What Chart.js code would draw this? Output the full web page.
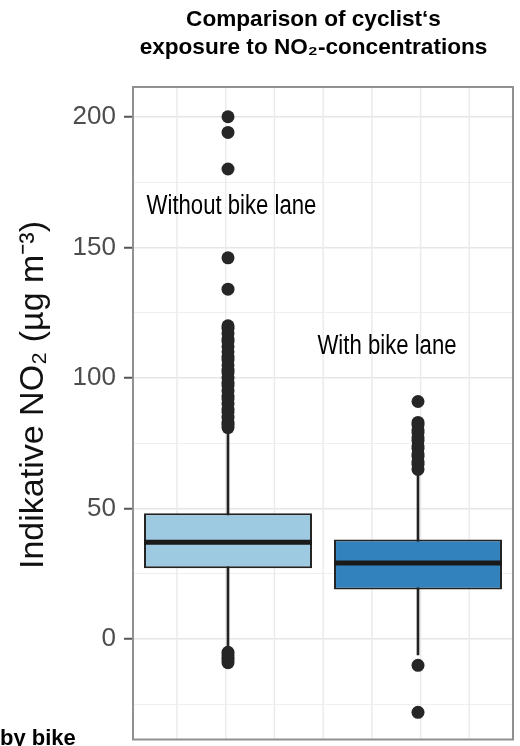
<!DOCTYPE html>
<html><head><meta charset="utf-8">
<script src="https://cdn.jsdelivr.net/npm/chart.js@4.4.1/dist/chart.umd.min.js"></script>
<style>html,body{margin:0;padding:0;background:#fff;} #wrap{width:520px;height:746px;}</style>
</head><body><div id="wrap"><canvas id="c" width="520" height="746"></canvas></div>
<script>
// ---- data ----
const categories = ['Without bike lane', 'With bike lane'];
const q1 = [27.2, 19.0];
const medians = [37.1, 29.2];
const q3 = [48.2, 38.2];
const whiskerLow = [-3, -6];
const whiskerHigh = [79, 64];
const outliersWithout = [200, 194, 180, 146, 134, 120, 119, 117, 115, 114, 112, 110, 108, 107, 105, 103, 102, 100, 98, 97, 95, 93, 92, 90, 88, 87, 85, 83, 82, 81, -5, -6, -7, -8, -9];
const outliersWith = [91, 83, 82, 80, 79, 77, 76, 74, 73, 71, 70, 68, 67, 65, -10, -28];
const yTicks = [-25, 0, 25, 50, 75, 100, 125, 150, 175, 200];
const yTickLabels = ['', '0', '', '50', '', '100', '', '150', '', '200'];
const chartTitle = ['Comparison of cyclist\u2018s', 'exposure to NO\u2082-concentrations'];
const yTitle = 'Indikative NO\u2082 (\u00b5g m\u207b\u00b3)';
const cornerText = 'by bike';

// ---- styles ----
const BAR_PCT = 0.884;
const boxFill = ['#9ecae1', '#3182bd'];
const dark = '#222222';
const SANS = "'Liberation Sans', Arial, sans-serif";

const outlierPoints = [];
outliersWithout.forEach(v => outlierPoints.push({x: categories[0], y: v}));
outliersWith.forEach(v => outlierPoints.push({x: categories[1], y: v}));

const panelDecor = {
  id: 'panelDecor',
  beforeDatasetsDraw(chart) {
    // vertical panel grid lines (evenly spaced background grid)
    const {ctx, chartArea: a} = chart;
    const w = a.right - a.left;
    ctx.save();
    ctx.strokeStyle = '#ebebeb';
    ctx.lineWidth = 1.5;
    for (let k = 0; k < 7; k++) {
      const px = a.left + w * (0.1158 + 0.1282 * k);
      ctx.beginPath(); ctx.moveTo(px, a.top); ctx.lineTo(px, a.bottom); ctx.stroke();
    }
    ctx.restore();
  },
  afterDatasetsDraw(chart) {
    const {ctx, chartArea: a, scales: {x, y}} = chart;
    ctx.save();
    // panel border
    ctx.strokeStyle = '#909090';
    ctx.lineWidth = 2;
    ctx.strokeRect(a.left, a.top, a.right - a.left, a.bottom - a.top);
    // annotation labels (condensed)
    const labelY = [165.6, 112.2];
    const labelDx = [3.5, -31];
    ctx.font = "27px " + SANS;
    ctx.fillStyle = '#000';
    ctx.textAlign = 'center';
    ctx.textBaseline = 'middle';
    categories.forEach((c, i) => {
      ctx.save();
      ctx.translate(x.getPixelForValue(i) + labelDx[i], y.getPixelForValue(labelY[i]));
      ctx.scale(0.82, 1);
      ctx.fillText(c, 0, 0);
      ctx.restore();
    });
    // chart title
    ctx.font = "bold 22.6px " + SANS;
    ctx.fillText(chartTitle[0], 313.5, 20);
    ctx.fillText(chartTitle[1], 313.5, 48);
    // y axis title
    ctx.save();
    ctx.translate(33.5, 395);
    ctx.rotate(-Math.PI / 2);
    ctx.font = "34px " + SANS;
    ctx.fillStyle = '#111';
    ctx.fillText(yTitle, 0, 0);
    ctx.restore();
    // residual corner text
    ctx.font = "bold 22px " + SANS;
    ctx.textAlign = 'left';
    ctx.textBaseline = 'alphabetic';
    ctx.fillText(cornerText, 0, 745);
    ctx.restore();
  }
};

new Chart(document.getElementById('c'), {
  type: 'bar',
  data: {
    labels: categories,
    datasets: [
      {
        type: 'bar', label: 'whiskers',
        data: categories.map((c, i) => [whiskerLow[i], whiskerHigh[i]]),
        backgroundColor: dark, barThickness: 2, grouped: false, order: 4
      },
      {
        type: 'bar', label: 'boxes',
        data: categories.map((c, i) => [q1[i], q3[i]]),
        backgroundColor: boxFill, borderColor: dark, borderWidth: 2, borderSkipped: false,
        barPercentage: BAR_PCT, categoryPercentage: 1, grouped: false, order: 3
      },
      {
        type: 'line', label: 'medians', data: medians, showLine: false,
        pointStyle: 'line', pointBorderColor: '#1a1a1a', pointBackgroundColor: '#1a1a1a',
        pointBorderWidth: 5,
        pointRadius: (ctx) => { const s = ctx.chart.scales.x; return s.width / categories.length * BAR_PCT / 2; },
        order: 2
      },
      {
        type: 'line', label: 'outliers', data: outlierPoints, showLine: false,
        pointStyle: 'circle', pointRadius: 6.5, pointBackgroundColor: '#262626', pointBorderWidth: 0,
        order: 1
      }
    ]
  },
  options: {
    responsive: false, animation: false, events: [],
    layout: {padding: {left: 73, right: 7, top: 87, bottom: 4}},
    plugins: {legend: {display: false}, tooltip: {enabled: false}, title: {display: false}},
    scales: {
      x: {type: 'category', display: false, offset: true},
      y: {
        type: 'linear', min: -38.4, max: 211.4,
        afterBuildTicks: (axis) => { axis.ticks = yTicks.map(v => ({value: v})); },
        afterFit: (s) => { s.width = 60; s.paddingBottom = 0; s.paddingTop = 0; },
        ticks: {
          padding: 8, color: '#4d4d4d',
          font: {family: SANS, size: 26},
          callback: (v) => { const i = yTicks.indexOf(v); return yTickLabels[i] ? yTickLabels[i] : []; }
        },
        grid: {
          color: (ctx) => (ctx.tick && ctx.tick.value % 50 === 0) ? '#e6e6e6' : '#efefef',
          lineWidth: (ctx) => (ctx.tick && ctx.tick.value % 50 === 0) ? 1.5 : 1,
          tickLength: 9, tickWidth: 2,
          tickColor: (ctx) => (ctx.tick && ctx.tick.value % 50 === 0) ? '#555' : 'rgba(0,0,0,0)'
        },
        border: {display: false},
        title: {display: false}
      }
    }
  },
  plugins: [panelDecor]
});
</script></body></html>
